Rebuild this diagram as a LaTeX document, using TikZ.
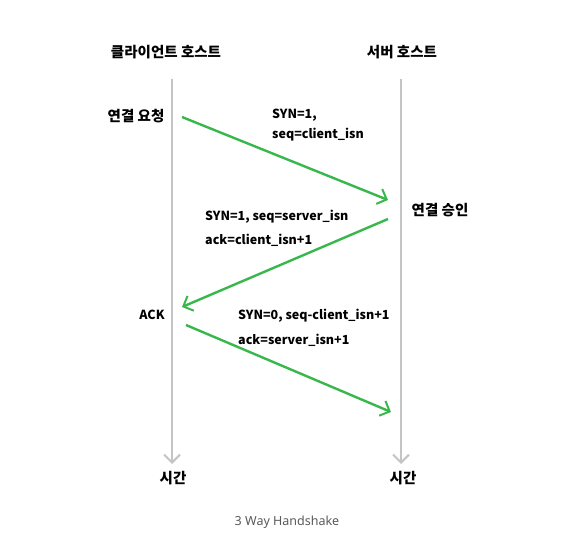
\documentclass[tikz,border=0pt]{standalone}
\usepackage{fontspec}
\setmainfont{Noto Sans CJK KR}
\newfontfamily\capfont{Noto Sans}
\usetikzlibrary{arrows.meta}
\definecolor{linegray}{RGB}{196,196,196}
\definecolor{msggreen}{RGB}{56,184,76}
\definecolor{capgray}{RGB}{90,90,90}
\tikzset{
	lifeline/.style={draw=linegray,line width=2.6pt,-{Straight Barb[length=8pt,width=16pt,line width=2pt]}},
	msg/.style={draw=msggreen,line width=2.4pt,-{Straight Barb[length=8pt,width=16pt,line width=2pt]}},
	lbl/.style={font=\fontsize{14.5}{16}\selectfont\bfseries,inner sep=0pt},
	txt/.style={font=\fontsize{12.5}{15}\selectfont\bfseries,inner sep=0pt,anchor=west},
}
\begin{document}
\begin{tikzpicture}[x=1pt,y=-1pt]
	\useasboundingbox[fill=white](0,0)rectangle(582,548);
	% hosts
	\node[lbl](client)at(166,52){클라이언트 호스트};
	\node[lbl](server)at(402,52){서버 호스트};
	\coordinate(ctop)at(172,79);
	\coordinate(cend)at(172,464);
	\coordinate(stop)at(401,79);
	\coordinate(send)at(401,464);
	\draw[lifeline](ctop)--(cend);
	\draw[lifeline](stop)--(send);
	\node[lbl](ctime)at(173,478){시간};
	\node[lbl](stime)at(403,478){시간};
	% messages
	\node[lbl](req)at(136,116){연결 요청};
	\node[lbl](acc)at(440,210){연결 승인};
	\node[txt,anchor=center](ack)at(152,315){ACK};
	\coordinate(m1a)at(182,117);
	\coordinate(m1b)at(388,200);
	\coordinate(m2a)at(388,219);
	\coordinate(m2b)at(182,307);
	\coordinate(m3a)at(186,325);
	\coordinate(m3b)at(391,412);
	\draw[msg](m1a)--(m1b);
	\draw[msg](m2a)--(m2b);
	\draw[msg](m3a)--(m3b);
	\node[txt](syn1)at(272,115){SYN=1,};
	\node[txt](seq1)at(272,135){seq=client\_isn};
	\node[txt](syn2)at(205,217){SYN=1, seq=server\_isn};
	\node[txt](ack2)at(205,240){ack=client\_isn+1};
	\node[txt](syn3)at(238,316){SYN=0, seq-client\_isn+1};
	\node[txt](ack3)at(238,340){ack=server\_isn+1};
	% caption
	\node[font=\capfont\fontsize{12.5}{14}\selectfont,text=capgray](cap)at(287,522){3 Way Handshake};
\end{tikzpicture}
\end{document}
